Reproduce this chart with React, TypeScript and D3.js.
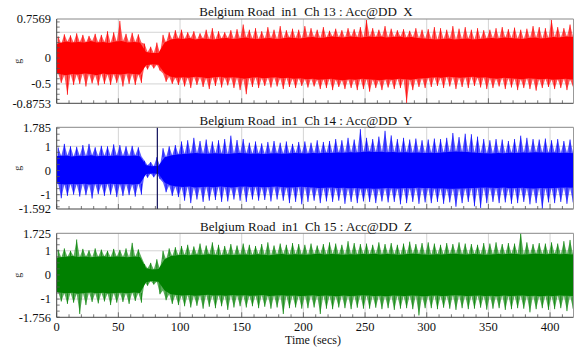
import React from "react";
import * as d3 from "d3";

const W = 576;
const H = 347;
const BIN = 5; // seconds covered by each envelope value
const timeTicks = [0, 50, 100, 150, 200, 250, 300, 350, 400];
const markerTime = 81.6; // cursor line in the Y panel

// Ch 13 X : envelope per 5 s bin (dense core and peak values), in g
const xCoreHi = [
  0.28, 0.32, 0.3, 0.31, 0.3, 0.33, 0.3, 0.31, 0.29, 0.32,
  0.33, 0.3, 0.31, 0.3, 0.12, 0.1, 0.1, 0.3, 0.36, 0.38,
  0.37, 0.39, 0.36, 0.38, 0.37, 0.36, 0.38, 0.39, 0.37, 0.38,
  0.4, 0.38, 0.37, 0.38, 0.39, 0.37, 0.38, 0.4, 0.39, 0.38,
  0.4, 0.41, 0.39, 0.4, 0.42, 0.41, 0.4, 0.42, 0.41, 0.4,
  0.42, 0.41, 0.42, 0.4, 0.41, 0.42, 0.4, 0.41, 0.39, 0.38,
  0.37, 0.36, 0.37, 0.38, 0.36, 0.37, 0.38, 0.36, 0.37, 0.38,
  0.39, 0.38, 0.4, 0.39, 0.38, 0.37, 0.39, 0.4, 0.38, 0.39,
  0.41, 0.4, 0.42, 0.41,
];
const xCoreLo = [
  -0.3, -0.33, -0.31, -0.32, -0.3, -0.31, -0.33, -0.3, -0.32, -0.31,
  -0.32, -0.3, -0.31, -0.32, -0.14, -0.12, -0.13, -0.3, -0.36, -0.38,
  -0.37, -0.38, -0.36, -0.37, -0.39, -0.37, -0.36, -0.38, -0.37, -0.38,
  -0.4, -0.38, -0.37, -0.39, -0.38, -0.37, -0.39, -0.38, -0.4, -0.39,
  -0.41, -0.4, -0.42, -0.41, -0.4, -0.42, -0.43, -0.41, -0.42, -0.4,
  -0.41, -0.42, -0.43, -0.41, -0.42, -0.4, -0.41, -0.42, -0.4, -0.39,
  -0.38, -0.37, -0.38, -0.36, -0.37, -0.38, -0.37, -0.36, -0.38, -0.37,
  -0.39, -0.4, -0.38, -0.39, -0.4, -0.41, -0.39, -0.4, -0.41, -0.4,
  -0.42, -0.41, -0.4, -0.42,
];
const xPeakHi = [
  0.42, 0.46, 0.44, 0.48, 0.45, 0.43, 0.47, 0.45, 0.52, 0.5,
  0.72, 0.47, 0.49, 0.46, 0.28, 0.22, 0.3, 0.45, 0.5, 0.54,
  0.55, 0.5, 0.52, 0.48, 0.55, 0.58, 0.52, 0.5, 0.54, 0.56,
  0.65, 0.55, 0.58, 0.52, 0.6, 0.55, 0.62, 0.54, 0.57, 0.55,
  0.62, 0.58, 0.55, 0.6, 0.53, 0.57, 0.54, 0.58, 0.56, 0.6,
  0.74, 0.58, 0.55, 0.62, 0.57, 0.54, 0.56, 0.53, 0.58, 0.55,
  0.56, 0.6, 0.58, 0.55, 0.62, 0.57, 0.6, 0.55, 0.58, 0.54,
  0.55, 0.58, 0.6, 0.56, 0.59, 0.55, 0.57, 0.62, 0.6, 0.58,
  0.74, 0.6, 0.58, 0.65,
];
const xPeakLo = [
  -0.48, -0.71, -0.52, -0.5, -0.55, -0.49, -0.53, -0.5, -0.52, -0.48,
  -0.55, -0.5, -0.52, -0.48, -0.22, -0.2, -0.24, -0.46, -0.5, -0.52,
  -0.55, -0.58, -0.52, -0.56, -0.6, -0.54, -0.57, -0.53, -0.58, -0.62,
  -0.7, -0.56, -0.58, -0.54, -0.57, -0.55, -0.6, -0.56, -0.58, -0.54,
  -0.57, -0.55, -0.6, -0.58, -0.62, -0.56, -0.6, -0.58, -0.62, -0.6,
  -0.65, -0.58, -0.62, -0.57, -0.6, -0.58, -0.87, -0.62, -0.56, -0.58,
  -0.56, -0.54, -0.58, -0.55, -0.6, -0.56, -0.58, -0.54, -0.57, -0.6,
  -0.58, -0.55, -0.6, -0.57, -0.62, -0.58, -0.6, -0.63, -0.58, -0.56,
  -0.6, -0.58, -0.62, -0.55,
];

// Ch 14 Y
const yCoreHi = [
  0.6, 0.62, 0.58, 0.61, 0.6, 0.63, 0.59, 0.61, 0.6, 0.62,
  0.61, 0.6, 0.62, 0.59, 0.22, 0.18, 0.2, 0.55, 0.62, 0.66,
  0.68, 0.7, 0.72, 0.7, 0.69, 0.71, 0.7, 0.68, 0.7, 0.72,
  0.71, 0.69, 0.7, 0.68, 0.7, 0.71, 0.69, 0.7, 0.72, 0.71,
  0.7, 0.72, 0.71, 0.73, 0.72, 0.74, 0.73, 0.75, 0.74, 0.76,
  0.78, 0.76, 0.77, 0.75, 0.76, 0.74, 0.75, 0.73, 0.74, 0.72,
  0.73, 0.72, 0.74, 0.76, 0.78, 0.77, 0.76, 0.74, 0.72, 0.71,
  0.7, 0.72, 0.71, 0.73, 0.72, 0.74, 0.73, 0.75, 0.74, 0.73,
  0.74, 0.72, 0.73, 0.71,
];
const yCoreLo = [
  -0.55, -0.58, -0.56, -0.57, -0.55, -0.58, -0.56, -0.57, -0.55, -0.56,
  -0.57, -0.56, -0.58, -0.55, -0.15, -0.12, -0.14, -0.5, -0.62, -0.66,
  -0.68, -0.66, -0.7, -0.68, -0.67, -0.69, -0.66, -0.68, -0.7, -0.67,
  -0.66, -0.68, -0.67, -0.69, -0.68, -0.66, -0.68, -0.7, -0.69, -0.67,
  -0.68, -0.7, -0.72, -0.71, -0.7, -0.72, -0.71, -0.73, -0.72, -0.74,
  -0.73, -0.75, -0.74, -0.72, -0.73, -0.74, -0.72, -0.73, -0.71, -0.72,
  -0.72, -0.74, -0.73, -0.75, -0.76, -0.74, -0.73, -0.72, -0.71, -0.7,
  -0.71, -0.72, -0.7, -0.73, -0.72, -0.71, -0.73, -0.74, -0.72, -0.73,
  -0.72, -0.71, -0.7, -0.72,
];
const yPeakHi = [
  0.95, 1.1, 1.0, 0.98, 1.05, 1.1, 0.96, 1.02, 1.0, 1.08,
  1.05, 1.0, 1.02, 0.96, 0.4, 0.35, 0.55, 0.92, 1.0, 1.05,
  1.2, 1.25, 1.35, 1.22, 1.28, 1.2, 1.25, 1.3, 1.44, 1.26,
  1.3, 1.15, 1.2, 1.12, 1.18, 1.22, 1.15, 1.2, 1.1, 1.18,
  1.2, 1.15, 1.25, 1.18, 1.22, 1.3, 1.25, 1.35, 1.28, 1.71,
  1.35, 1.3, 1.4, 1.64, 1.45, 1.3, 1.35, 1.28, 1.32, 1.25,
  1.28, 1.32, 1.3, 1.35, 1.55, 1.38, 1.52, 1.5, 1.4, 1.3,
  1.25, 1.3, 1.28, 1.22, 1.3, 1.44, 1.35, 1.3, 1.28, 1.32,
  1.25, 1.3, 1.22, 1.28,
];
const yPeakLo = [
  -1.15, -1.05, -1.0, -1.08, -1.02, -1.16, -0.98, -1.05, -1.0, -1.1,
  -1.05, -1.02, -1.08, -1.0, -0.3, -0.28, -0.35, -0.9, -1.05, -1.1,
  -1.25, -1.35, -1.2, -1.3, -1.25, -1.22, -1.3, -1.28, -1.2, -1.25,
  -1.3, -1.2, -1.25, -1.22, -1.28, -1.2, -1.25, -1.35, -1.3, -1.4,
  -1.3, -1.25, -1.35, -1.28, -1.3, -1.25, -1.38, -1.3, -1.35, -1.28,
  -1.3, -1.35, -1.28, -1.32, -1.3, -1.4, -1.35, -1.3, -1.38, -1.32,
  -1.35, -1.3, -1.38, -1.32, -1.5, -1.35, -1.3, -1.48, -1.55, -1.35,
  -1.3, -1.35, -1.32, -1.38, -1.35, -1.3, -1.4, -1.35, -1.58, -1.32,
  -1.35, -1.3, -1.38, -1.32,
];

// Ch 15 Z
const zCoreHi = [
  0.72, 0.75, 0.78, 0.74, 0.76, 0.73, 0.75, 0.77, 0.74, 0.76,
  0.75, 0.73, 0.76, 0.74, 0.28, 0.22, 0.25, 0.65, 0.78, 0.82,
  0.84, 0.82, 0.85, 0.83, 0.86, 0.84, 0.82, 0.85, 0.83, 0.84,
  0.85, 0.83, 0.86, 0.84, 0.82, 0.85, 0.87, 0.84, 0.86, 0.85,
  0.84, 0.86, 0.88, 0.85, 0.87, 0.86, 0.84, 0.86, 0.85, 0.87,
  0.86, 0.88, 0.85, 0.87, 0.86, 0.84, 0.86, 0.88, 0.87, 0.85,
  0.84, 0.86, 0.85, 0.87, 0.88, 0.86, 0.85, 0.87, 0.86, 0.84,
  0.85, 0.87, 0.86, 0.88, 0.87, 0.85, 0.86, 0.88, 0.87, 0.86,
  0.88, 0.86, 0.87, 0.85,
];
const zCoreLo = [
  -0.72, -0.76, -0.74, -0.78, -0.75, -0.73, -0.76, -0.74, -0.77, -0.75,
  -0.74, -0.76, -0.73, -0.75, -0.3, -0.25, -0.28, -0.65, -0.8, -0.83,
  -0.85, -0.83, -0.86, -0.84, -0.82, -0.85, -0.84, -0.86, -0.83, -0.85,
  -0.84, -0.86, -0.85, -0.83, -0.87, -0.85, -0.84, -0.86, -0.85, -0.87,
  -0.86, -0.84, -0.87, -0.85, -0.86, -0.88, -0.85, -0.87, -0.86, -0.84,
  -0.85, -0.87, -0.86, -0.88, -0.85, -0.86, -0.87, -0.85, -0.86, -0.88,
  -0.86, -0.85, -0.87, -0.86, -0.84, -0.85, -0.87, -0.86, -0.85, -0.87,
  -0.86, -0.88, -0.85, -0.87, -0.86, -0.85, -0.87, -0.86, -0.88, -0.86,
  -0.87, -0.85, -0.86, -0.88,
];
const zPeakHi = [
  1.05, 1.1, 1.0, 1.47, 1.08, 1.02, 1.1, 1.05, 1.0, 1.08,
  1.04, 1.1, 1.33, 1.06, 0.45, 0.5, 0.65, 1.0, 1.1, 1.15,
  1.2, 1.25, 1.18, 1.3, 1.22, 1.35, 1.25, 1.2, 1.28, 1.22,
  1.3, 1.25, 1.2, 1.28, 1.35, 1.22, 1.3, 1.25, 1.32, 1.28,
  1.25, 1.3, 1.22, 1.28, 1.35, 1.3, 1.25, 1.4, 1.32, 1.28,
  1.3, 1.25, 1.35, 1.28, 1.32, 1.25, 1.3, 1.38, 1.28, 1.32,
  1.35, 1.3, 1.25, 1.32, 1.28, 1.35, 1.3, 1.28, 1.25, 1.32,
  1.3, 1.35, 1.28, 1.32, 1.3, 1.75, 1.35, 1.28, 1.32, 1.3,
  1.35, 1.3, 1.4, 1.45,
];
const zPeakLo = [
  -1.1, -1.2, -1.15, -1.62, -1.25, -1.12, -1.18, -1.1, -1.25, -1.15,
  -1.12, -1.2, -1.08, -1.15, -0.45, -0.4, -0.8, -1.05, -1.2, -1.25,
  -1.3, -1.35, -1.28, -1.4, -1.32, -1.38, -1.3, -1.45, -1.35, -1.3,
  -1.35, -1.3, -1.38, -1.32, -1.4, -1.35, -1.62, -1.38, -1.35, -1.4,
  -1.38, -1.35, -1.62, -1.4, -1.42, -1.35, -1.38, -1.42, -1.36, -1.4,
  -1.4, -1.36, -1.42, -1.38, -1.45, -1.4, -1.38, -1.42, -1.68, -1.38,
  -1.38, -1.42, -1.36, -1.4, -1.45, -1.38, -1.42, -1.4, -1.36, -1.44,
  -1.4, -1.38, -1.45, -1.42, -1.38, -1.4, -1.55, -1.42, -1.38, -1.45,
  -1.42, -1.38, -1.5, -1.4,
];

const xLabels = [0.7569, 0, -0.5, -0.8753];
const yLabels = [1.785, 1, 0, -1, -1.592];
const zLabels = [1.725, 1, 0, -1, -1.756];

const panels = [
  {
    title: "Belgium Road  in1  Ch 13 : Acc@DD  X",
    color: "#ff0000",
    top: 19, bottom: 103.3, domain: [-0.8753, 0.7569],
    labels: xLabels, grid: [0.5, 0, -0.5], minor: 0.1,
    coreHi: xCoreHi, coreLo: xCoreLo, peakHi: xPeakHi, peakLo: xPeakLo,
  },
  {
    title: "Belgium Road  in1  Ch 14 : Acc@DD  Y",
    color: "#0000ff",
    top: 127.3, bottom: 209, domain: [-1.592, 1.785],
    labels: yLabels, grid: [1, 0, -1], minor: 0.25,
    coreHi: yCoreHi, coreLo: yCoreLo, peakHi: yPeakHi, peakLo: yPeakLo,
    marker: markerTime,
  },
  {
    title: "Belgium Road  in1  Ch 15 : Acc@DD  Z",
    color: "#008000",
    top: 233.3, bottom: 317.3, domain: [-1.756, 1.725],
    labels: zLabels, grid: [1, 0, -1], minor: 0.25,
    coreHi: zCoreHi, coreLo: zCoreLo, peakHi: zPeakHi, peakLo: zPeakLo,
  },
];

const FONT = "'Liberation Serif', 'Times New Roman', serif";
const x = d3.scaleLinear().domain([0, 419]).range([56.7, 573.5]);

function fmt(v: number) {
  return v === 0 ? "0" : String(v);
}

type Pt = { t: number; v: number };

function Panel({ p, idx }: { p: any; idx: number }) {
  const y = d3.scaleLinear().domain(p.domain).range([p.bottom, p.top]);
  const n = p.peakHi.length;
  const tc = (i: number) => (i === 0 ? 0 : i === n - 1 ? 420 : i * BIN + BIN / 2);
  const [x0, x1] = x.range();

  // spiky fringe: peak and core values alternate inside each bin
  const upper: Pt[] = [];
  const lower: Pt[] = [];
  for (let i = 0; i < n; i++) {
    upper.push({ t: i * BIN + 1.2, v: p.peakHi[i] }, { t: i * BIN + 3.7, v: p.coreHi[i] });
    lower.push({ t: i * BIN + 1.2, v: p.coreLo[i] }, { t: i * BIN + 3.7, v: p.peakLo[i] });
  }
  const fringe = d3.area<Pt>()
    .x((d) => x(d.t))
    .y0(y(0))
    .y1((d) => y(d.v));
  const core = d3.area<number>()
    .x((_, i) => x(tc(i)))
    .y0((_, i) => y(p.coreLo[i]))
    .y1((d) => y(d));

  let spikes = "";
  p.peakHi.forEach((v: number, i: number) => {
    spikes += `M${x(i * BIN + 1.2)},${y(p.coreHi[i])}V${y(v)}`;
  });
  p.peakLo.forEach((v: number, i: number) => {
    spikes += `M${x(i * BIN + 3.7)},${y(p.coreLo[i])}V${y(v)}`;
  });

  const m = p.minor;
  const minorY = d3.range(Math.ceil(p.domain[0] / m), Math.floor(p.domain[1] / m) + 1).map((k) => k * m);
  const minorX = d3.range(0, 420, 10);
  const clipId = `clip${idx}`;

  return (
    <g>
      <defs>
        <clipPath id={clipId}>
          <rect x={x0} y={p.top} width={x1 - x0} height={p.bottom - p.top} />
        </clipPath>
      </defs>
      {p.grid.map((g: number) => (
        <line key={`gy${g}`} x1={x0} x2={x1} y1={y(g)} y2={y(g)} stroke="#d4d4d4" strokeWidth={1} />
      ))}
      {timeTicks.slice(1).map((t) => (
        <line key={`gx${t}`} x1={x(t)} x2={x(t)} y1={p.top} y2={p.bottom} stroke="#d4d4d4" strokeWidth={1} />
      ))}
      <g clipPath={`url(#${clipId})`}>
        <path d={fringe(upper) || ""} fill={p.color} fillOpacity={0.65} />
        <path d={fringe(lower) || ""} fill={p.color} fillOpacity={0.65} />
        <path d={spikes} stroke={p.color} strokeWidth={0.8} fill="none" />
        <path d={core(p.coreHi) || ""} fill={p.color} />
        {p.marker !== undefined && (
          <line x1={x(p.marker)} x2={x(p.marker)} y1={p.top} y2={p.bottom} stroke="#10105a" strokeWidth={1.2} />
        )}
      </g>
      {minorY.map((v: number) => (
        <line key={`my${v}`} x1={x0} x2={x0 + 3} y1={y(v)} y2={y(v)} stroke="#555" strokeWidth={0.8} />
      ))}
      {minorX.map((t: number) => (
        <line key={`mx${t}`} x1={x(t)} x2={x(t)} y1={p.bottom} y2={p.bottom - (t % 50 === 0 ? 5 : 3)} stroke="#555" strokeWidth={0.8} />
      ))}
      <line x1={x0} x2={x1} y1={p.top} y2={p.top} stroke="#888" strokeWidth={1} />
      <line x1={x0} x2={x1} y1={p.bottom} y2={p.bottom} stroke="#444" strokeWidth={1} />
      <line x1={x0} x2={x0} y1={p.top} y2={p.bottom} stroke="#444" strokeWidth={1} />
      <line x1={x1} x2={x1} y1={p.top} y2={p.bottom} stroke="#999" strokeWidth={1} />
      {p.labels.map((v: number) => (
        <text key={`l${v}`} x={51} y={y(v)} dy="0.35em" textAnchor="end" fontSize={12.5} fontFamily={FONT} fill="#111">
          {fmt(v)}
        </text>
      ))}
      <text x={306} y={p.top - 2.8} textAnchor="middle" fontSize={13} fontFamily={FONT} fill="#111" style={{ whiteSpace: "pre" }}>
        {p.title}
      </text>
      <text
        transform={`translate(17,${(p.top + p.bottom) / 2}) rotate(-90)`}
        textAnchor="middle"
        dy="0.35em"
        fontSize={10}
        fontFamily={FONT}
        fill="#333"
      >
        g
      </text>
    </g>
  );
}

export default function App() {
  const last = panels[panels.length - 1];
  return (
    <svg width={W} height={H} style={{ display: "block", position: "absolute", left: 0, top: 0, background: "#fff" }}>
      {panels.map((p, i) => (
        <Panel key={i} p={p} idx={i} />
      ))}
      {timeTicks.map((t) => (
        <text key={t} x={x(t)} y={last.bottom + 13.2} textAnchor="middle" fontSize={12.5} fontFamily={FONT} fill="#111">
          {t}
        </text>
      ))}
      <text x={313} y={344.3} textAnchor="middle" fontSize={12} fontFamily={FONT} fill="#111">
        Time (secs)
      </text>
    </svg>
  );
}
